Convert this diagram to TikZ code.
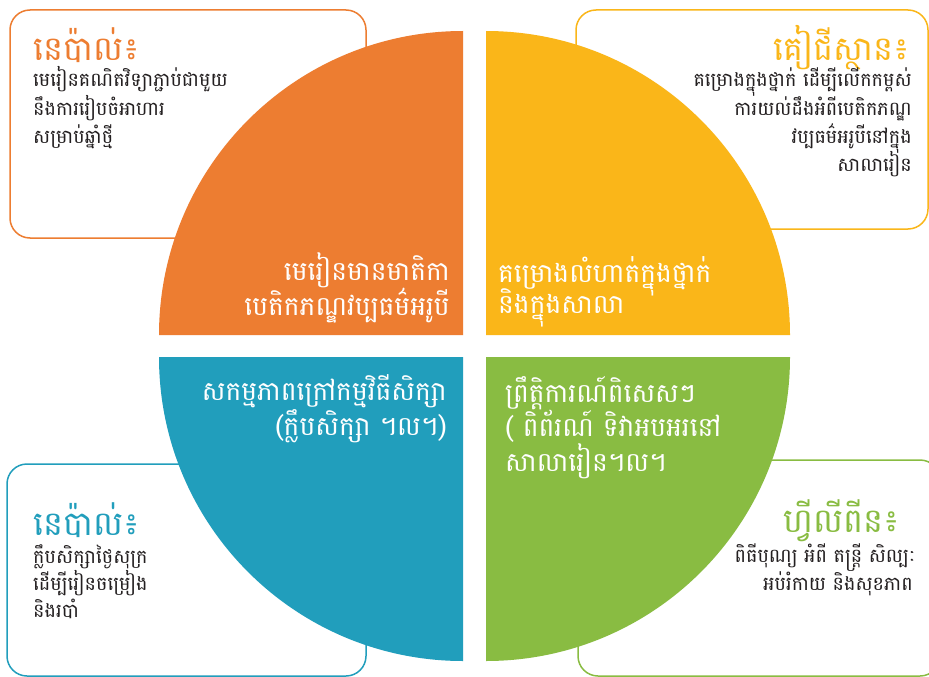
\documentclass[tikz,border=0pt]{standalone}
\usepackage{fontspec}
\newfontfamily\khmer[Script=Khmer]{Battambang}
\definecolor{cOrange}{RGB}{237,125,49}
\definecolor{cYellow}{RGB}{250,182,25}
\definecolor{cBlue}{RGB}{33,158,188}
\definecolor{cGreen}{RGB}{137,188,66}
\definecolor{cText}{RGB}{35,31,32}
\begin{document}
\begin{tikzpicture}[x=1pt,y=-1pt,
  infobox/.style={line width=1.5pt, fill=white, rounded corners=20pt},
  title/.style={inner sep=0pt, font=\khmer\fontsize{33.5}{36}\selectfont},
  body/.style={inner sep=0pt, text=cText, font=\khmer\fontsize{19.2}{24}\selectfont},
  center/.style={inner sep=0pt, text=white, font=\khmer\fontsize{26.5}{30}\selectfont}]
\useasboundingbox[fill=white] (0,0) rectangle (929,677);
% boxes
\draw[infobox, draw=cOrange] (10,10) rectangle (366,238);
\draw[infobox, draw=cYellow] (576,10) rectangle (928,229);
\draw[infobox, draw=cBlue] (7,464) rectangle (366,676);
\draw[infobox, draw=cGreen] (578,460) rectangle (940,676);
% quarter discs
\fill[cOrange] (463,335) -- ++(-304,0) arc[start angle=180, end angle=270, radius=304] -- cycle;
\fill[cYellow] (486,335) -- ++(0,-304) arc[start angle=-90, end angle=0, radius=304] -- cycle;
\fill[cBlue] (463,357) -- ++(-304,0) arc[start angle=180, end angle=90, radius=304] -- cycle;
\fill[cGreen] (486,357) -- ++(304,0) arc[start angle=0, end angle=90, radius=304] -- cycle;
% top-left box
\node[title, text=cOrange, anchor=base west] (tlt) at (33,60) {នេប៉ាល់៖};
\node[body, anchor=base west] (tl1) at (33,87) {មេរៀនគណិតវិទ្យាភ្ជាប់ជាមួយ};
\node[body, anchor=base west] (tl2) at (33,115) {នឹងការរៀបចំអាហារ};
\node[body, anchor=base west] (tl3) at (33,143) {សម្រាប់ឆ្នាំថ្មី};
% top-right box
\node[title, text=cYellow, anchor=base east] (trt) at (910,60) {គៀជីស្ថាន៖};
\node[body, anchor=base east] (tr1) at (912,87) {គម្រោងក្នុងថ្នាក់ ដើម្បីលើកកម្ពស់};
\node[body, anchor=base east] (tr2) at (912,115) {ការយល់ដឹងអំពីបេតិកភណ្ឌ};
\node[body, anchor=base east] (tr3) at (912,143) {វប្បធម៌អរូបីនៅក្នុង};
\node[body, anchor=base east] (tr4) at (912,171) {សាលារៀន};
% bottom-left box
\node[title, text=cBlue, anchor=base west] (blt) at (33,535) {នេប៉ាល់៖};
\node[body, anchor=base west] (bl1) at (33,563) {ក្លឹបសិក្សាថ្ងៃសុក្រ};
\node[body, anchor=base west] (bl2) at (33,590) {ដើម្បីរៀនចម្រៀង};
\node[body, anchor=base west] (bl3) at (33,617) {និងរបាំ};
% bottom-right box
\node[title, text=cGreen, anchor=base east] (brt) at (900,532) {ហ្វីលីពីន៖};
\node[body, anchor=base east] (br1) at (916,562) {ពិធីបុណ្យ អំពី តន្ត្រី សិល្បៈ};
\node[body, anchor=base east] (br2) at (913,590) {អប់រំកាយ និងសុខភាព};
% centre texts
\node[center, anchor=base east] (o1) at (450,280) {មេរៀនមានមាតិកា};
\node[center, anchor=base east] (o2) at (450,315) {បេតិកភណ្ឌវប្បធម៌អរូបី};
\node[center, anchor=base west] (y1) at (498,282) {គម្រោងលំហាត់ក្នុងថ្នាក់};
\node[center, anchor=base west] (y2) at (498,313) {និងក្នុងសាលា};
\node[center, anchor=base east] (b1) at (447,400) {សកម្មភាពក្រៅកម្មវិធីសិក្សា};
\node[center, anchor=base east] (b2) at (447,435) {(ក្លឹបសិក្សា ។ល។)};
\node[center, anchor=base west] (g1) at (505,402) {ព្រឹត្តិការណ៍ពិសេសៗ};
\node[center, anchor=base west] (g2) at (505,436) {( ពិព័រណ៍ ទិវាអបអរនៅ};
\node[center, anchor=base west] (g3) at (505,471) {សាលារៀន។ល។};
\end{tikzpicture}
\end{document}
